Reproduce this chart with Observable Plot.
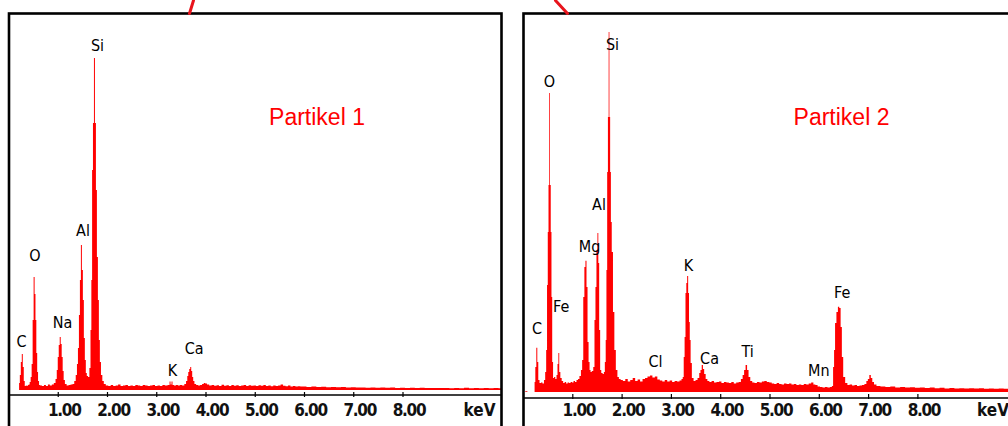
<!DOCTYPE html>
<html>
<head>
<meta charset="utf-8">
<script src="https://cdn.jsdelivr.net/npm/d3@7"></script>
<script src="https://cdn.jsdelivr.net/npm/@observablehq/plot@0.6"></script>
<style>
html, body { margin: 0; padding: 0; background: #fff; }
#wrap { position: relative; width: 1008px; height: 426px; overflow: hidden; background: #fff; }
#wrap > svg { position: absolute; top: 0; }
[aria-label="x-axis tick label"] text { letter-spacing: -1.3px; }
</style>
</head>
<body>
<div id="wrap"></div>
<script>
// ---------- data (keV, counts) ----------
const xTicks = [1, 2, 3, 4, 5, 6, 7, 8];
const xUnit = "keV";

const spectrum1 = [
  [0.18,0],[0.21,0],[0.22,70],[0.24,150],[0.26,280],[0.28,360],[0.30,230],[0.32,90],[0.34,40],[0.36,45],[0.38,40],[0.40,50],[0.42,55],[0.44,80],
  [0.46,130],[0.48,260],[0.50,700],[0.52,1130],[0.54,960],[0.555,700],[0.575,370],[0.59,180],[0.61,90],[0.63,50],
  [0.66,45],[0.70,40],[0.74,50],[0.78,40],[0.82,55],[0.86,45],[0.90,55],[0.94,70],
  [0.97,110],[0.99,200],[1.01,330],[1.03,450],[1.05,530],[1.07,460],[1.09,330],[1.11,190],[1.13,100],[1.16,60],
  [1.20,45],[1.24,50],[1.28,55],[1.32,60],[1.35,90],
  [1.38,150],[1.40,260],[1.42,420],[1.44,750],[1.46,1100],[1.48,1450],[1.50,1200],[1.52,900],[1.54,520],[1.56,300],[1.58,170],[1.60,140],[1.63,130],
  [1.655,220],[1.675,600],[1.69,1100],[1.705,2200],[1.725,2670],[1.745,3320],[1.765,2670],[1.785,2000],[1.805,1330],[1.825,900],[1.845,500],[1.865,280],[1.89,150],[1.92,90],[1.95,60],
  [2.00,45],[2.05,40],[2.10,50],[2.15,40],[2.20,45],[2.25,55],[2.30,40],[2.35,45],[2.40,50],[2.45,40],[2.50,45],[2.55,40],[2.60,50],[2.65,45],[2.70,40],[2.75,50],[2.80,45],[2.85,40],[2.90,45],[2.95,50],[3.00,40],[3.05,45],[3.10,40],[3.15,50],[3.20,45],
  [3.26,50],[3.28,85],[3.30,55],[3.32,85],[3.34,50],[3.38,45],[3.42,50],[3.46,45],[3.50,50],[3.55,45],[3.59,60],
  [3.62,90],[3.64,140],[3.66,180],[3.68,210],[3.70,230],[3.72,190],[3.74,130],[3.76,90],[3.79,60],[3.83,50],[3.87,45],[3.91,50],
  [3.95,60],[3.98,70],[4.01,65],[4.05,55],[4.10,45],
  [4.15,50],[4.20,42],[4.25,48],[4.30,40],[4.35,52],[4.40,42],[4.45,48],[4.50,40],[4.55,50],[4.60,42],[4.65,48],[4.70,40],[4.75,45],[4.80,50],[4.85,40],[4.90,48],[4.95,42],[5.00,45],[5.05,40],[5.10,48],[5.15,42],[5.20,50],[5.25,40],[5.30,45],[5.35,38],[5.40,46],[5.45,40],[5.50,44],[5.55,55],[5.60,42],[5.65,38],[5.70,44],[5.75,36],[5.80,40],[5.85,34],[5.90,38],[5.95,34],
  [6.00,36],[6.10,31],[6.20,34],[6.30,30],[6.40,33],[6.50,28],[6.60,31],[6.70,27],[6.80,30],[6.90,25],[7.00,28],[7.10,24],[7.20,26],[7.30,23],[7.40,25],[7.50,22],[7.60,26],[7.70,22],[7.80,24],[7.90,20],[8.00,22],[8.10,20],[8.20,23],[8.30,20],[8.40,22],[8.50,19],[8.60,21],[8.70,19],[8.80,21],[8.90,20],[9.00,18],[9.10,20],[9.20,18],[9.30,22],[9.40,18],[9.50,20],[9.60,18],[9.70,20],[9.80,18],[9.90,19],[10.0,18]
];

const spectrum2 = [
  [0.04,0],[0.05,8],[0.13,0],[0.23,0],[0.24,100],[0.26,250],[0.28,443],[0.30,300],[0.32,120],[0.35,90],[0.38,95],[0.41,85],[0.44,120],[0.46,200],
  [0.48,420],[0.495,1070],[0.51,1600],[0.525,2070],[0.54,2990],[0.555,2070],[0.57,1600],[0.585,950],[0.60,300],[0.62,140],
  [0.64,150],[0.67,130],[0.69,170],[0.71,280],[0.725,390],[0.745,200],[0.77,140],[0.80,110],
  [0.83,90],[0.86,100],[0.89,85],[0.92,95],[0.95,90],[0.98,100],[1.01,95],[1.04,110],[1.07,100],[1.10,120],[1.13,130],[1.16,160],
  [1.19,220],[1.21,320],[1.235,950],[1.255,1250],[1.278,1313],[1.298,1050],[1.32,500],[1.34,300],[1.36,220],[1.38,200],[1.41,210],
  [1.44,250],[1.46,720],[1.48,1050],[1.50,1420],[1.52,1590],[1.535,1290],[1.555,620],[1.575,220],[1.60,190],[1.63,180],[1.65,200],
  [1.67,300],[1.685,520],[1.70,1220],[1.715,2200],[1.73,2750],[1.745,3600],[1.76,2750],[1.775,2200],[1.79,1700],[1.81,1400],[1.84,800],[1.866,420],[1.90,220],[1.93,150],[1.96,130],
  [2.00,120],[2.05,110],[2.10,130],[2.15,105],[2.20,120],[2.25,140],[2.30,110],[2.35,125],[2.40,105],[2.45,130],
  [2.50,140],[2.55,155],[2.60,165],[2.65,145],[2.70,155],[2.75,125],[2.80,115],[2.85,105],[2.90,120],[2.95,105],[3.00,115],[3.05,100],[3.10,110],[3.15,105],[3.20,115],
  [3.23,130],[3.25,150],[3.27,350],[3.286,550],[3.306,990],[3.32,1090],[3.34,1160],[3.36,990],[3.375,700],[3.39,520],[3.41,290],[3.44,140],[3.48,110],[3.52,120],
  [3.56,140],[3.59,190],[3.61,220],[3.64,270],[3.66,230],[3.69,180],[3.72,130],[3.76,110],
  [3.80,100],[3.85,110],[3.90,95],[3.95,100],[4.00,105],[4.05,90],[4.10,100],[4.15,95],[4.20,90],[4.25,100],[4.30,85],[4.35,95],[4.40,100],
  [4.44,130],[4.47,170],[4.50,220],[4.53,270],[4.56,220],[4.59,150],[4.63,110],[4.67,95],
  [4.72,90],[4.77,100],[4.82,95],[4.87,105],[4.92,110],[4.97,100],[5.02,95],[5.07,85],[5.12,80],[5.17,90],[5.22,80],[5.27,75],[5.32,85],[5.37,80],[5.42,85],[5.47,75],[5.52,80],[5.57,70],[5.62,75],[5.67,70],[5.72,80],[5.77,75],[5.82,85],[5.87,95],[5.91,75],[5.95,70],[6.00,55],[6.05,50],[6.10,45],[6.15,50],[6.20,45],[6.25,50],
  [6.28,60],[6.30,250],[6.32,420],[6.34,690],[6.375,800],[6.40,853],[6.43,840],[6.455,650],[6.48,350],[6.51,150],[6.56,90],[6.60,70],[6.65,75],[6.70,65],[6.75,70],[6.80,60],[6.85,65],[6.90,70],
  [6.95,80],[6.98,110],[7.01,130],[7.04,170],[7.07,140],[7.10,100],[7.14,75],[7.20,60],
  [7.30,55],[7.40,50],[7.50,55],[7.60,45],[7.70,50],[7.80,45],[7.90,48],[8.00,42],[8.10,45],[8.20,40],[8.30,44],[8.40,38],[8.50,42],[8.60,36],[8.70,40],[8.80,36],[8.90,38],[9.00,35],[9.10,38],[9.20,34],[9.30,37],[9.40,33],[9.50,36],[9.60,32],[9.70,35],[9.80,33],[9.90,34],[10.0,33]
];

const labels1 = [
  {el: "Si", keV: 1.797, c: 3450},
  {el: "O",  keV: 0.528, c: 1350},
  {el: "Al", keV: 1.503, c: 1595},
  {el: "Na", keV: 1.086, c: 675},
  {el: "C",  keV: 0.254, c: 483},
  {el: "K",  keV: 3.320, c: 200},
  {el: "Ca", keV: 3.760, c: 420}
];
const labels2 = [
  {el: "Si", keV: 1.805, c: 3480},
  {el: "O",  keV: 0.527, c: 3110},
  {el: "Al", keV: 1.531, c: 1880},
  {el: "Mg", keV: 1.339, c: 1453},
  {el: "Fe", keV: 0.765, c: 853},
  {el: "C",  keV: 0.274, c: 637},
  {el: "Cl", keV: 2.677, c: 303},
  {el: "K",  keV: 3.347, c: 1270},
  {el: "Ca", keV: 3.773, c: 337},
  {el: "Ti", keV: 4.544, c: 403},
  {el: "Mn", keV: 5.990, c: 220},
  {el: "Fe", keV: 6.465, c: 995}
];
const titles1 = [{text: "Partikel 1", keV: 6.254, c: 2730}];
const titles2 = [{text: "Partikel 2", keV: 6.450, c: 2750}];
const connector1 = [{keV: 3.746, c: 3900}, {keV: 3.665, c: 3770}];
const connector2 = [{keV: 0.649, c: 3920}, {keV: 0.892, c: 3790}];

// ---------- drawing ----------
const narrow = "'Liberation Sans Narrow', 'Arial Narrow', 'DejaVu Sans Condensed', sans-serif";
const RED = "#ff0000";

function panel({data, labels, titles, connector, width, mL, mR, bottom, yMin, yMax, tickPad, ruleDy, unitDx}) {
  return Plot.plot({
    width, height: 426,
    marginLeft: mL, marginRight: mR, marginTop: 0, marginBottom: 426 - bottom,
    x: {domain: [0, 10], axis: null},
    y: {domain: [yMin, yMax], axis: null},
    style: {background: "transparent", color: "#000"},
    marks: [
      Plot.areaY(data, {x: d => d[0], y: d => d[1], curve: "step", fill: RED}),
      Plot.frame({stroke: "#000", strokeWidth: 2.6, insetTop: 13, insetBottom: -60}),
      Plot.ruleY([yMin], {dy: ruleDy, stroke: "#000", strokeWidth: 1.5}),
      Plot.axisX(xTicks, {tickSize: 5, fill: "none", stroke: "#000", strokeWidth: 1.2, label: null}),
      Plot.axisX(xTicks, {tickSize: 0, tickPadding: tickPad, tickFormat: d => d.toFixed(2), dx: 6,
        fontSize: 17, fontWeight: "bold", fontFamily: narrow, fill: "#111", label: null}),
      Plot.text([xUnit], {frameAnchor: "bottom-right", text: d => d, textAnchor: "end", lineAnchor: "top",
        dx: unitDx, dy: tickPad, fontSize: 17, fontWeight: "bold", fontFamily: narrow, fill: "#111"}),
      Plot.text(labels, {x: "keV", y: "c", text: "el", fontSize: 16, fontFamily: narrow, fill: "#000", lineAnchor: "middle"}),
      Plot.text(titles, {x: "keV", y: "c", text: "text", fontSize: 23, fontFamily: "'Liberation Sans', Arial, sans-serif", fill: RED, lineAnchor: "middle"}),
      Plot.line(connector, {x: "keV", y: "c", stroke: "#e8141c", strokeWidth: 3})
    ]
  });
}

const wrap = document.getElementById("wrap");
const left = panel({data: spectrum1, labels: labels1, titles: titles1, connector: connector1,
  width: 510, mL: 8.5, mR: 9, bottom: 392, yMin: -20, yMax: 3900, tickPad: 11, ruleDy: 2.5, unitDx: -6});
left.style.left = "0px";
wrap.appendChild(left);

const right = panel({data: spectrum2, labels: labels2, titles: titles2, connector: connector2,
  width: 516, mL: 13, mR: 10, bottom: 394, yMin: -20, yMax: 3920, tickPad: 9, ruleDy: 3.5, unitDx: -7.5});
right.style.left = "510px";
wrap.appendChild(right);
</script>
</body>
</html>
